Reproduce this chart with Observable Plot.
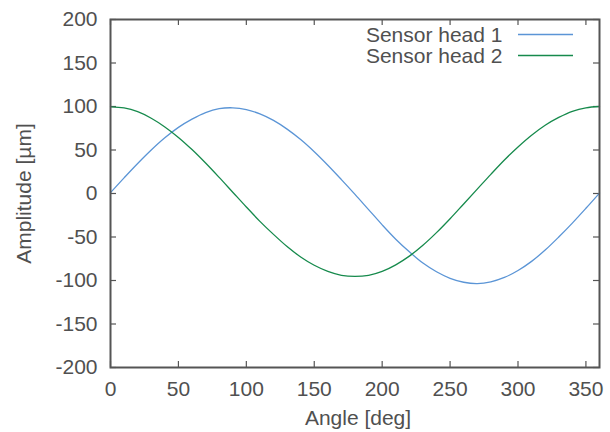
<!DOCTYPE html>
<html><head><meta charset="utf-8">
<script src="https://cdn.jsdelivr.net/npm/d3@7"></script>
<script src="https://cdn.jsdelivr.net/npm/@observablehq/plot@0.6"></script>
<style>body{margin:0;background:#fff} svg{display:block}</style>
</head><body><div id="chart"></div>
<script>
const angles = [0,10,20,30,40,50,60,70,80,90,100,110,120,130,140,150,160,170,180,190,200,210,220,230,240,250,260,270,280,290,300,310,320,330,340,350,360];
const head1 = [1,18,34.5,50,64,76,85.5,93,97.5,98.5,96.5,91.5,84,74,62,48,32.5,16,-1,-18.5,-36,-52.5,-67,-80,-90,-97.5,-102,-103.5,-101.5,-96.5,-88.5,-78,-65,-50,-34,-17,0.5];
const head2 = [99.6,98.3,94,86.5,76.5,64.5,50.5,35,18.5,1.5,-15.5,-32,-47,-61,-73,-82.5,-89.5,-94,-95.3,-94,-89.5,-82,-72,-59.5,-45,-29,-12,5,22,38.5,53.5,67,78.5,87.5,94.5,98.5,100];
const seriesNames = ["Sensor head 1", "Sensor head 2"];
const seriesColors = ["#5b95d6", "#168a4c"];
const xTicks = [0,50,100,150,200,250,300,350];
const yTicks = [-200,-150,-100,-50,0,50,100,150,200];
const xLabel = "Angle [deg]";
const yLabel = "Amplitude [µm]";

const rows = [];
angles.forEach((a, i) => {
  rows.push({angle: a, value: head1[i], series: seriesNames[0]});
  rows.push({angle: a, value: head2[i], series: seriesNames[1]});
});

const W = 610, H = 432, mL = 110, mR = 11, mT = 19, mB = 65;
const iw = W - mL - mR, ih = H - mT - mB, tk = 6;
const txt = "#505050", frameCol = "#555", fs = 21;

const plot = Plot.plot({
  width: W, height: H,
  marginLeft: mL, marginRight: mR, marginTop: mT, marginBottom: mB,
  style: {fontFamily: "'Liberation Sans', Arial, sans-serif", fontSize: fs + "px", color: txt, background: "#fff", overflow: "visible"},
  x: {domain: [0, 360]},
  y: {domain: [-200, 200]},
  color: {domain: seriesNames, range: seriesColors},
  marks: [
    Plot.axisX({ticks: xTicks, tickSize: 0, tickPadding: 14, label: null, fontSize: fs, tickFormat: d => String(d)}),
    Plot.axisY({ticks: yTicks, tickSize: 0, tickPadding: 13, label: null, fontSize: fs, tickFormat: d => String(d)}),
    Plot.tickX(xTicks, {x: d => d, insetTop: ih - tk, stroke: frameCol, strokeWidth: 1.2}),
    Plot.tickX(xTicks, {x: d => d, insetBottom: ih - tk, stroke: frameCol, strokeWidth: 1.2}),
    Plot.tickY(yTicks, {y: d => d, insetRight: iw - tk, stroke: frameCol, strokeWidth: 1.2}),
    Plot.tickY(yTicks, {y: d => d, insetLeft: iw - tk, stroke: frameCol, strokeWidth: 1.2}),
    Plot.line(rows, {x: "angle", y: "value", z: "series", stroke: "series", curve: "catmull-rom", strokeWidth: 1.3}),
    Plot.frame({stroke: frameCol, strokeWidth: 2}),
    Plot.text([xLabel], {text: d => d, frameAnchor: "bottom", textAnchor: "middle", dx: 3, dy: 51, lineAnchor: "middle", fontSize: fs, fill: txt}),
    Plot.text([yLabel], {text: d => d, frameAnchor: "left", textAnchor: "middle", dx: -86, rotate: -90, lineAnchor: "middle", fontSize: fs, fill: txt}),
    Plot.text([seriesNames[0]], {text: d => d, frameAnchor: "top-right", textAnchor: "end", dx: -97, dy: 16, lineAnchor: "middle", fontSize: fs, fill: txt}),
    Plot.text([seriesNames[1]], {text: d => d, frameAnchor: "top-right", textAnchor: "end", dx: -97, dy: 37, lineAnchor: "middle", fontSize: fs, fill: txt})
  ]
});

const svg = d3.select(plot);
seriesNames.forEach((n, i) => {
  svg.append("line")
    .attr("x1", W - mR - 81).attr("x2", W - mR - 26)
    .attr("y1", mT + 15.5 + i * 21).attr("y2", mT + 15.5 + i * 21)
    .attr("stroke", seriesColors[i]).attr("stroke-width", 1.3);
});
document.getElementById("chart").appendChild(plot);
</script>
</body></html>
